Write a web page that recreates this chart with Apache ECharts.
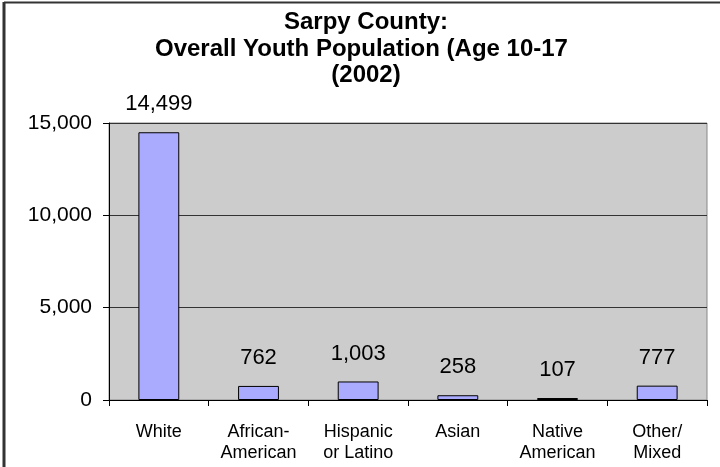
<!DOCTYPE html>
<html>
<head>
<meta charset="utf-8">
<script src="https://cdn.jsdelivr.net/npm/echarts@6/dist/echarts.min.js"></script>
<style>
html,body{margin:0;padding:0;background:#fff;}
#chart{width:720px;height:467px;}
</style>
</head>
<body>
<div id="chart"></div>
<script>
const titleLines = ['Sarpy County:', 'Overall Youth Population (Age 10-17', '(2002)'];
const categories = ['White', 'African-\nAmerican', 'Hispanic\nor Latino', 'Asian', 'Native\nAmerican', 'Other/\nMixed'];
const values = [14499, 762, 1003, 258, 107, 777];
const yTicks = [0, 5000, 10000, 15000];

const fmt = v => Number(v).toLocaleString('en-US');
const FONT = '"Liberation Sans", Arial, sans-serif';

const chart = echarts.init(document.getElementById('chart'));
const titleFont = 'bold 24px ' + FONT;
chart.setOption({
  animation: false,
  backgroundColor: '#ffffff',
  graphic: [
    {type: 'line', shape: {x1: 4, y1: 2.5, x2: 720, y2: 2.5}, style: {stroke: '#333', lineWidth: 2}},
    {type: 'line', shape: {x1: 4, y1: 2, x2: 4, y2: 467}, style: {stroke: '#333', lineWidth: 3}},
    {type: 'text', x: 366, y: 22, style: {text: titleLines[0], font: titleFont, fill: '#000', align: 'center', verticalAlign: 'middle', textAlign: 'center', textVerticalAlign: 'middle'}},
    {type: 'text', x: 155, y: 49, style: {text: titleLines[1], font: titleFont, fill: '#000', align: 'left', verticalAlign: 'middle', textAlign: 'left', textVerticalAlign: 'middle'}},
    {type: 'text', x: 366, y: 75, style: {text: titleLines[2], font: titleFont, fill: '#000', align: 'center', verticalAlign: 'middle', textAlign: 'center', textVerticalAlign: 'middle'}}
  ],
  grid: {
    left: 109, right: 13, top: 123, bottom: 67,
    show: true, backgroundColor: '#CCCCCC', borderColor: '#888888', borderWidth: 1
  },
  xAxis: {
    type: 'category',
    data: categories,
    axisLine: {show: true, lineStyle: {color: '#000', width: 1}},
    axisTick: {show: true, length: 6, lineStyle: {color: '#000'}},
    axisLabel: {color: '#000', fontFamily: FONT, fontSize: 18, lineHeight: 21, margin: 22, interval: 0}
  },
  yAxis: {
    type: 'value',
    min: 0, max: 15000, interval: 5000,
    axisLine: {show: true, lineStyle: {color: '#000', width: 1}},
    axisTick: {show: true, length: 6, lineStyle: {color: '#000'}},
    axisLabel: {color: '#000', fontFamily: FONT, fontSize: 21, margin: 17,
      formatter: v => yTicks.includes(v) ? fmt(v) : ''},
    splitLine: {show: true, lineStyle: {color: '#333', width: 1}}
  },
  series: [{
    type: 'bar',
    data: values,
    barWidth: '41%',
    itemStyle: {color: '#AAAAFF', borderColor: '#000', borderWidth: 1},
    label: {show: true, position: 'top', distance: 17, color: '#000', fontFamily: FONT, fontSize: 22,
      formatter: p => fmt(p.value)}
  }]
});
</script>
</body>
</html>
